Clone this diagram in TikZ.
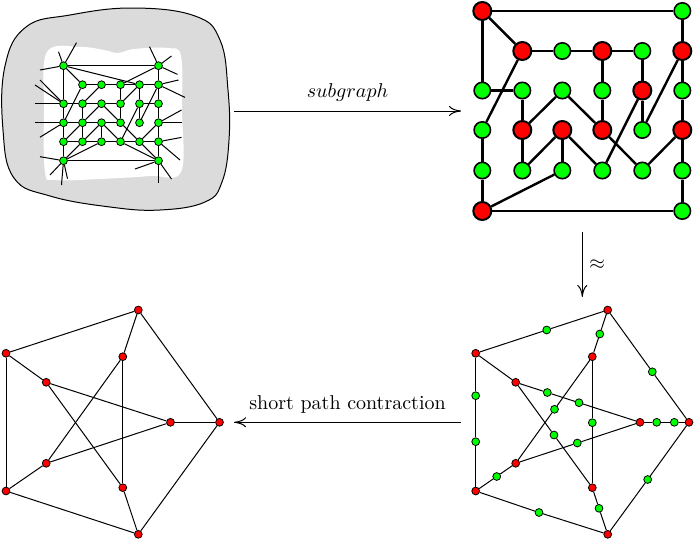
\documentclass[tikz,border=0pt]{standalone}
\usepackage{tikz}
\usepackage{xcolor}
\usetikzlibrary{positioning}
\usetikzlibrary{arrows.meta}
\definecolor{blobgray}{gray}{0.86}

\begin{document}
\begin{tikzpicture}[x=0.5pt,y=-0.5pt,>={To[length=6pt,width=5pt]},
    dot/.style={circle,draw,inner sep=0pt,minimum size=3.9pt,line width=0.4pt},
    red dot/.style={dot,fill=red},
    green dot/.style={dot,fill=green},
    big red/.style={circle,draw,line width=1pt,inner sep=0pt,minimum size=9pt,fill=red},
    big green/.style={circle,draw,line width=0.8pt,inner sep=0pt,minimum size=8.2pt,fill=green}]
\useasboundingbox (0,0) rectangle (696,546);

% the big blob with its graph
\draw[fill=blobgray,line width=0.5pt] plot[smooth cycle,tension=0.7] coordinates
  {(26,27) (70,15) (133,8) (195,16) (220,40) (228,90) (229,140) (222,182) (205,202)
   (160,210) (110,207) (50,196) (14,178) (3,130) (5,66)};
\fill[white] plot[smooth cycle,tension=0.6] coordinates
  {(47,52) (80,47) (104,50) (118,53) (134,49) (168,48) (181,56) (182,110) (181,172)
   (150,176) (100,179) (55,180) (45,172) (44,110)};

\node[green dot] (100) at (63.5,65.7) {};
\node[green dot] (105) at (158.5,65.7) {};
\node[green dot] (111) at (82.5,84.7) {};
\node[green dot] (112) at (101.5,84.7) {};
\node[green dot] (113) at (120.5,84.7) {};
\node[green dot] (114) at (139.5,84.7) {};
\node[green dot] (115) at (158.5,84.7) {};
\node[green dot] (120) at (63.5,103.7) {};
\node[green dot] (121) at (82.5,103.7) {};
\node[green dot] (122) at (101.5,103.7) {};
\node[green dot] (123) at (120.5,103.7) {};
\node[green dot] (124) at (139.5,103.7) {};
\node[green dot] (125) at (158.5,103.7) {};
\node[green dot] (130) at (63.5,122.7) {};
\node[green dot] (131) at (82.5,122.7) {};
\node[green dot] (132) at (101.5,122.7) {};
\node[green dot] (133) at (120.5,122.7) {};
\node[green dot] (134) at (139.5,122.7) {};
\node[green dot] (135) at (158.5,122.7) {};
\node[green dot] (140) at (63.5,141.7) {};
\node[green dot] (141) at (82.5,141.7) {};
\node[green dot] (142) at (101.5,141.7) {};
\node[green dot] (143) at (120.5,141.7) {};
\node[green dot] (144) at (139.5,141.7) {};
\node[green dot] (145) at (158.5,141.7) {};
\node[green dot] (150) at (63.5,160.7) {};
\node[green dot] (155) at (158.5,160.7) {};

\path[line width=0.5pt]
  (100) edge (105) edge (111) edge (120) edge (114)
        edge +(-5,-14) edge +(13,-23) edge +(-23.5,4.3)
  (105) edge (115) edge (113)
        edge +(-9,-19) edge +(13,-9.7) edge +(19,8.7)
  (111) edge (112) edge (130)
  (112) edge (113) edge (121)
  (113) edge (114) edge (123)
  (114) edge (115) edge (124) edge (123)
  (115) edge (125) edge (134) edge +(20,-4.7) edge +(26.5,12.7)
  (120) edge (121) edge (130)
        edge +(-28.5,0) edge +(-23.5,-23.7) edge +(-28.5,-18.7)
  (121) edge (122) edge (131)
  (122) edge (123) edge (131) edge (133)
  (123) edge (133)
  (124) edge (134) edge (143) edge (125)
  (125) edge (135)
  (130) edge (131) edge (140) edge +(-28.5,0) edge +(-23.5,14.5)
  (131) edge (132) edge (141) edge (140)
  (132) edge (133) edge (141) edge (142) edge (143)
  (133) edge (144)
  (135) edge (144) edge (145) edge +(23,-12.7) edge +(23,0)
  (140) edge (141) edge (150)
  (141) edge (142) edge (150)
  (142) edge (143) edge (150)
  (143) edge (144) edge (155)
  (144) edge (145) edge (155)
  (145) edge (155) edge +(23,-4.3) edge +(21.5,18.3)
  (150) edge (155) edge +(-23.5,-4) edge +(-13.5,14.3) edge +(-2,24.3) edge +(4,18)
  (155) edge +(-23.5,8.3) edge +(0,22.6) edge +(13,18.3);

% the subgraph
\node[big red]   (200) at (482.3,11) {};
\node[big green] (205) at (682.3,11) {};
\node[big red]   (211) at (522.3,51) {};
\node[big green] (212) at (562.3,51) {};
\node[big red]   (213) at (602.3,51) {};
\node[big green] (214) at (642.3,51) {};
\node[big red]   (215) at (682.3,51) {};
\node[big green] (220) at (482.3,90.5) {};
\node[big green] (221) at (522.3,90.5) {};
\node[big green] (222) at (562.3,90.5) {};
\node[big green] (223) at (602.3,90.5) {};
\node[big red]   (224) at (642.3,90.5) {};
\node[big green] (225) at (682.3,90.5) {};
\node[big green] (230) at (482.3,130) {};
\node[big red]   (231) at (522.3,130) {};
\node[big red]   (232) at (562.3,130) {};
\node[big red]   (233) at (602.3,130) {};
\node[big green] (234) at (642.3,130) {};
\node[big red]   (235) at (682.3,130) {};
\node[big green] (240) at (482.3,170.5) {};
\node[big green] (241) at (522.3,170.5) {};
\node[big green] (242) at (562.3,170.5) {};
\node[big green] (243) at (602.3,170.5) {};
\node[big green] (244) at (642.3,170.5) {};
\node[big green] (245) at (682.3,170.5) {};
\node[big red]   (250) at (482.3,211) {};
\node[big green] (255) at (682.3,211) {};

\path[line width=1.2pt]
  (200) edge (205) edge (211) edge (220)
  (205) edge (215)
  (211) edge (212) edge (230)
  (212) edge (213)
  (213) edge (214) edge (223)
  (214) edge (224)
  (215) edge (225) edge (234)
  (220) edge (221)
  (221) edge (231)
  (222) edge (231) edge (233)
  (223) edge (233)
  (224) edge (234) edge (243)
  (225) edge (235)
  (230) edge (240)
  (231) edge (241)
  (232) edge (241) edge (242) edge (243)
  (233) edge (244)
  (235) edge (244) edge (245)
  (240) edge (250)
  (242) edge (250)
  (245) edge (255)
  (250) edge (255);

% subdivided petersen graph
\node[red dot] (31) at (607.7,310) {};
\node[red dot] (32) at (475.7,353.3) {};
\node[red dot] (33) at (475.7,491) {};
\node[red dot] (34) at (607.7,534.3) {};
\node[red dot] (35) at (689,422.3) {};
\node[red dot] (36) at (592.3,356.7) {};
\node[red dot] (37) at (515.7,382.3) {};
\node[red dot] (38) at (640,422.3) {};
\node[red dot] (39) at (515.7,463.3) {};
\node[red dot] (40) at (592.3,487.7) {};
\node[green dot] (41) at (546.7,330) {};
\node[green dot] (42) at (599.8,334) {};
\node[green dot] (43) at (652.3,371.8) {};
\node[green dot] (44) at (475.7,395.7) {};
\node[green dot] (45) at (475.7,441.7) {};
\node[green dot] (46) at (547.3,392.5) {};
\node[green dot] (47) at (579,402.7) {};
\node[green dot] (48) at (554.5,409.3) {};
\node[green dot] (49) at (592.3,422.7) {};
\node[green dot] (50) at (656.7,422.3) {};
\node[green dot] (51) at (674.3,422.3) {};
\node[green dot] (52) at (554,435) {};
\node[green dot] (53) at (577.3,443) {};
\node[green dot] (54) at (496.7,476.5) {};
\node[green dot] (55) at (539,512.5) {};
\node[green dot] (56) at (599,508.3) {};
\node[green dot] (57) at (647.7,479.5) {};

\path[line width=0.5pt]
  (31) edge (41) edge (42) edge (43)
  (32) edge (41) edge (44) edge (37)
  (33) edge (45) edge (54) edge (55)
  (34) edge (55) edge (56) edge (57)
  (35) edge (43) edge (51) edge (57)
  (36) edge (42) edge (48) edge (49)
  (37) edge (46) edge (52)
  (38) edge (47) edge (50) edge (53)
  (39) edge (48) edge (53) edge (54)
  (40) edge (49) edge (52) edge (56)
  (44) edge (45)
  (46) edge (47)
  (50) edge (51);

% petersen graph
\node[red dot] (61) at (138.3,310) {};
\node[red dot] (62) at (6,353.3) {};
\node[red dot] (63) at (6,491) {};
\node[red dot] (64) at (138.3,534.3) {};
\node[red dot] (65) at (219.5,422.3) {};
\node[red dot] (66) at (122.8,356.7) {};
\node[red dot] (67) at (46.2,382.3) {};
\node[red dot] (68) at (170.5,422.3) {};
\node[red dot] (69) at (46.2,463.3) {};
\node[red dot] (70) at (122.8,487.7) {};

\path[line width=0.5pt]
  (61) edge (62) edge (65) edge (66)
  (62) edge (63) edge (67)
  (63) edge (64) edge (69)
  (64) edge (65) edge (70)
  (65) edge (68)
  (66) edge (69) edge (70)
  (67) edge (68) edge (70)
  (68) edge (69);

% arrows
\coordinate (s1) at (234,111);
\coordinate (s2) at (461,111);
\coordinate (p1) at (582.3,232);
\coordinate (p2) at (582.3,297);
\coordinate (c1) at (461,422.3);
\coordinate (c2) at (234,422.3);
\draw[->,line width=0.5pt] (s1) -- node[above=1pt] {$subgraph$} (s2);
\draw[->,line width=0.5pt] (p1) -- node[right] {$\approx$} (p2);
\draw[->,line width=0.5pt] (c1) -- node[above=1pt] {short path contraction} (c2);
\end{tikzpicture}
\end{document}
